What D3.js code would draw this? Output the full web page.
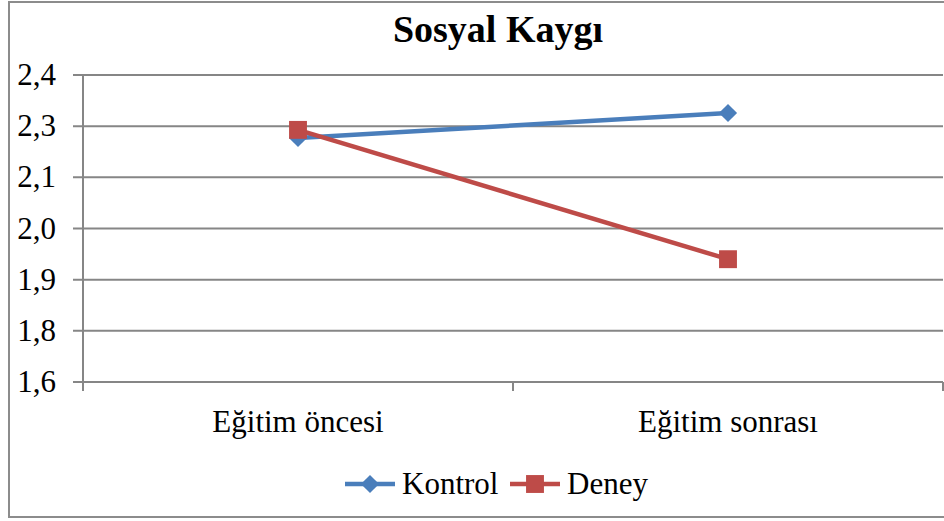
<!DOCTYPE html>
<html>
<head>
<meta charset="utf-8">
<script src="https://cdn.jsdelivr.net/npm/d3@7"></script>
<style>
body{margin:0;background:#fff;}
svg{display:block;font-family:"Liberation Serif","Times New Roman",serif;}
</style>
</head>
<body>
<svg></svg>
<script>
const title = 'Sosyal Kaygı';
const categories = ['Eğitim öncesi', 'Eğitim sonrası'];
const seriesNames = ['Kontrol', 'Deney'];
const kontrol = [2.236, 2.301];
const deney = [2.257, 1.920];
const yTicks = [1.6, 1.7333, 1.8667, 2.0, 2.1333, 2.2667, 2.4];
const yTickLabels = ['1,6', '1,8', '1,9', '2,0', '2,1', '2,3', '2,4'];

const colors = ['#4A7EBB', '#BE4B48'];
const gridColor = '#868686';
const fontSize = 31;

var width = 944, height = 521;
var svg = d3.select('svg').attr('width', width).attr('height', height);

// outer frame
svg.append('rect').attr('x', 9).attr('y', 2).attr('width', 1000).attr('height', 515)
	.style('fill', 'none').style('stroke', '#8c8c8c').style('stroke-width', 2);

var pLeft = 83, pRight = 943, pTop = 75, pBottom = 382;

var x = d3.scaleBand().domain(categories).range([pLeft, pRight]);
var y = d3.scaleLinear().domain([1.6, 2.4]).range([pBottom, pTop]);

// gridlines
svg.append('g').selectAll('line').data(yTicks).enter().append('line')
	.attr('x1', pLeft - 10).attr('x2', pRight)
	.attr('y1', d => y(d)).attr('y2', d => y(d))
	.style('stroke', gridColor).style('stroke-width', 2);

// y axis line
svg.append('line').attr('x1', pLeft).attr('x2', pLeft).attr('y1', pTop).attr('y2', pBottom)
	.style('stroke', gridColor).style('stroke-width', 2);

// x tick marks at band boundaries
var bounds = [pLeft].concat(categories.map(c => x(c) + x.bandwidth()));
svg.append('g').selectAll('line').data(bounds).enter().append('line')
	.attr('x1', d => d).attr('x2', d => d).attr('y1', pBottom).attr('y2', pBottom + 9)
	.style('stroke', gridColor).style('stroke-width', 2);

// y labels
svg.append('g').selectAll('text').data(yTicks).enter().append('text')
	.attr('x', 56).attr('y', d => y(d) + 10)
	.attr('text-anchor', 'end').style('font-size', fontSize + 'px').style('fill', '#000')
	.text((d, i) => yTickLabels[i]);

// x labels
svg.append('g').selectAll('text').data(categories).enter().append('text')
	.attr('x', d => x(d) + x.bandwidth() / 2).attr('y', 432)
	.attr('text-anchor', 'middle').style('font-size', fontSize + 'px').style('fill', '#000')
	.text(d => d);

// title
svg.append('text').attr('x', 498).attr('y', 42).attr('text-anchor', 'middle')
	.style('font-size', '38px').style('font-weight', 'bold').text(title);

var series = [kontrol, deney];
var line = d3.line().x((d, i) => x(categories[i]) + x.bandwidth() / 2).y(d => y(d));

var diamond = d3.symbol().type(d3.symbolDiamond2).size(210);
var square = d3.symbol().type(d3.symbolSquare).size(320);
var shapes = [diamond, square];

series.forEach(function(s, k){
	var g = svg.append('g');
	g.append('path').datum(s).attr('d', line)
		.style('fill', 'none').style('stroke', colors[k]).style('stroke-width', 4.5);
	g.selectAll('path.m').data(s).enter().append('path').classed('m', true)
		.attr('transform', (d, i) => 'translate(' + (x(categories[i]) + x.bandwidth() / 2) + ',' + y(d) + ')')
		.attr('d', shapes[k]).style('fill', colors[k]);
});

// legend
var legendX = [345, 510];
var legend = svg.append('g');
seriesNames.forEach(function(n, k){
	var lx = legendX[k], ly = 484;
	legend.append('line').attr('x1', lx).attr('x2', lx + 50).attr('y1', ly).attr('y2', ly)
		.style('stroke', colors[k]).style('stroke-width', 4.5);
	legend.append('path').attr('transform', 'translate(' + (lx + 25) + ',' + ly + ')')
		.attr('d', shapes[k]).style('fill', colors[k]);
	legend.append('text').attr('x', lx + 57).attr('y', ly + 10)
		.style('font-size', fontSize + 'px').text(n);
});
</script>
</body>
</html>
